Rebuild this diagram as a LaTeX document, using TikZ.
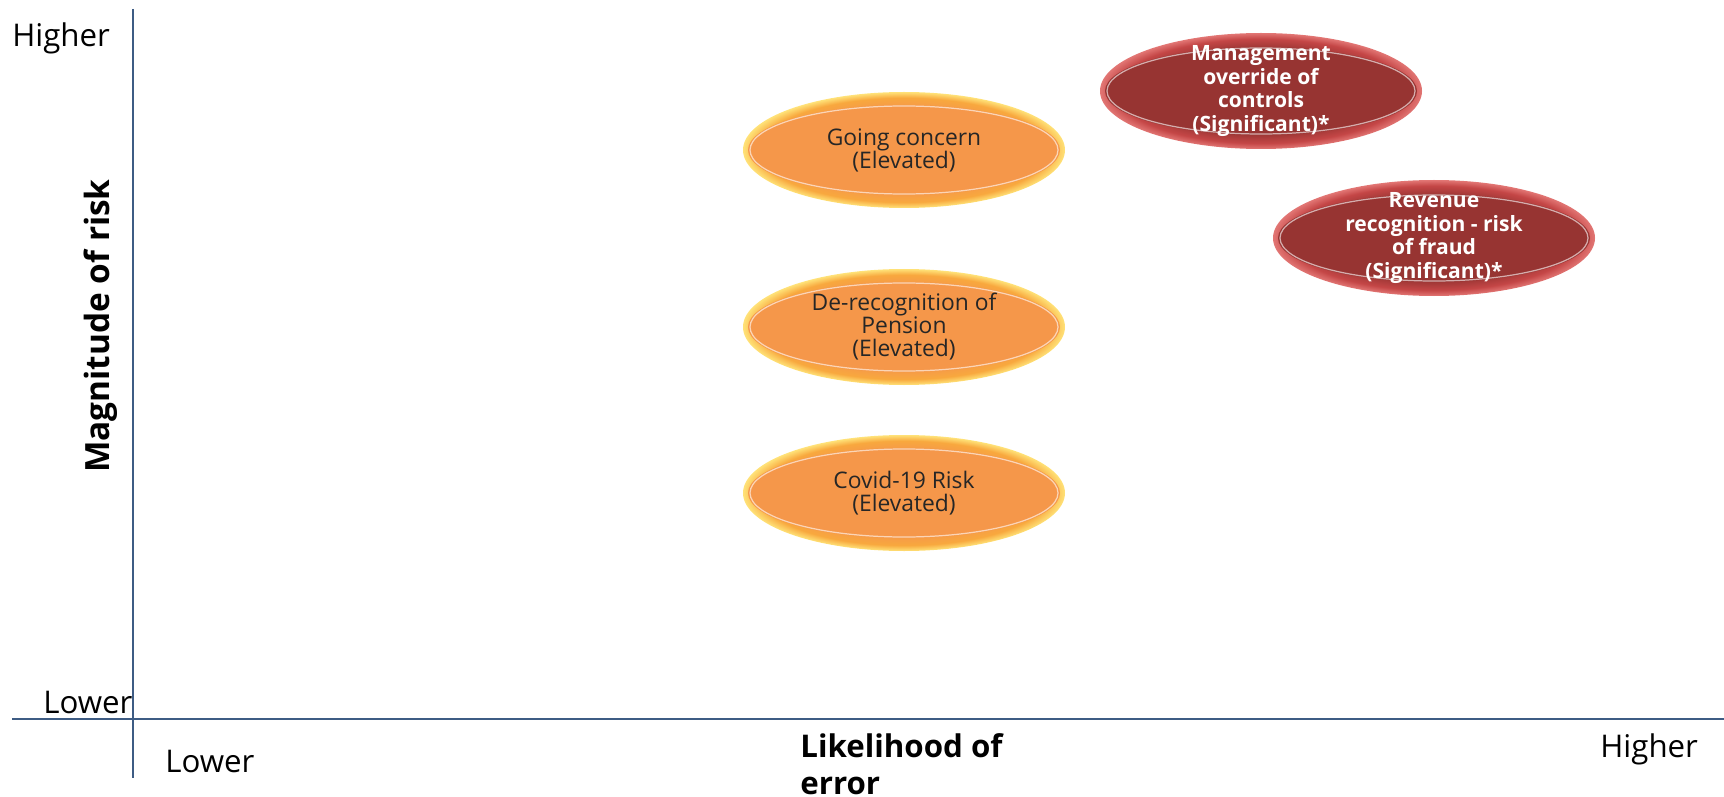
\documentclass[tikz,border=0pt]{standalone}
\usepackage{fontspec}
\setmainfont{Open Sans}
\usetikzlibrary{positioning}
\definecolor{axisblue}{RGB}{62,92,132}
\definecolor{elevbody}{RGB}{245,151,74}
\definecolor{elevrim}{RGB}{248,168,62}
\definecolor{elevglow}{RGB}{255,226,120}
\definecolor{sigbody}{RGB}{151,52,50}
\definecolor{sigrim}{RGB}{196,70,70}
\definecolor{sigglow}{RGB}{226,118,116}
\pgfdeclareradialshading{elevhalo}{\pgfpoint{0bp}{0bp}}{color(0bp)=(elevbody); color(18bp)=(elevbody); color(22.5bp)=(elevrim); color(25bp)=(elevglow); color(50bp)=(elevglow)}
\pgfdeclareradialshading{sighalo}{\pgfpoint{0bp}{0bp}}{color(0bp)=(sigbody); color(18bp)=(sigbody); color(22.5bp)=(sigrim); color(25bp)=(sigglow); color(50bp)=(sigglow)}
\begin{document}
\begin{tikzpicture}[x=0.02cm,y=-0.02cm,
    axisline/.style={draw=axisblue,line width=1.1pt},
    axlabel/.style={inner sep=0pt,font=\fontsize{17.8}{20}\selectfont},
    axtitle/.style={inner sep=0pt,align=left,font=\bfseries\fontsize{17.8}{21}\selectfont},
    elevhalo/.style={shade,shading=elevhalo},
    sighalo/.style={shade,shading=sighalo},
    ring/.style={draw=white,draw opacity=.6,line width=.7pt},
    elevtext/.style={align=center,text=black!85,font=\fontsize{13}{13.1}\selectfont},
    sigtext/.style={align=center,text=white,font=\bfseries\fontsize{12}{13.6}\selectfont}]
    \useasboundingbox (0,0) rectangle (1724,797);
    %% axes
    \coordinate (ytop) at (133,9);
    \coordinate (ybot) at (133,778);
    \coordinate (xleft) at (12,719);
    \coordinate (xright) at (1724,719);
    \draw[axisline] (ytop) -- (ybot);
    \draw[axisline] (xleft) -- (xright);
    \node[axlabel,anchor=base west] (yhigh) at (12,47) {Higher};
    \node[axlabel,anchor=base west] (ylow) at (43,713) {Lower};
    \node[axlabel,anchor=base west] (xlow) at (165,772) {Lower};
    \node[axlabel,anchor=base west] (xhigh) at (1600,757) {Higher};
    \node[axtitle,anchor=north west] (xtitle) at (800,733) {Likelihood of\\error};
    \node[axtitle,font=\bfseries\fontsize{19}{21}\selectfont,rotate=90] (ytitle) at (101,326) {Magnitude of risk};
    %% elevated risks
    \foreach \cy in {150,327,493} {
        \path[elevhalo] (904,\cy) ellipse [x radius=161, y radius=58];
        \fill[elevbody] (904,\cy) ellipse [x radius=156, y radius=45];
        \draw[ring] (904,\cy) ellipse [x radius=154, y radius=44];
    }
    \node[elevtext] (going) at (904,150) {Going concern\\(Elevated)};
    \node[elevtext] (pension) at (904,327) {De-recognition of\\Pension\\(Elevated)};
    \node[elevtext] (covid) at (904,493) {Covid-19 Risk\\(Elevated)};
    %% significant risks
    \foreach \cx/\cy in {1261/91,1434/238} {
        \path[sighalo] (\cx,\cy) ellipse [x radius=161, y radius=58];
        \fill[sigbody] (\cx,\cy) ellipse [x radius=156, y radius=44];
        \draw[ring] (\cx,\cy) ellipse [x radius=154, y radius=43];
    }
    \node[sigtext] (override) at (1261,91) {Management\\override of\\controls\\(Significant)*};
    \node[sigtext] (revenue) at (1434,238) {Revenue\\recognition - risk\\of fraud\\(Significant)*};
\end{tikzpicture}
\end{document}
